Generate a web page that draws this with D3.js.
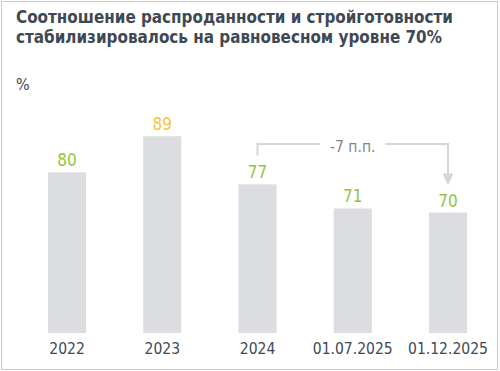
<!DOCTYPE html>
<html><head><meta charset="utf-8">
<script src="https://cdn.jsdelivr.net/npm/d3@7"></script>
<style>
html,body{margin:0;padding:0;background:#fff;}
svg{display:block;}
</style></head>
<body>
<svg id="chart" width="500" height="371"></svg>
<script>
const categories = ["2022", "2023", "2024", "01.07.2025", "01.12.2025"];
const values = [80, 89, 77, 71, 70];
const highlight = [false, true, false, false, false];
const titleLines = ["Соотношение распроданности и стройготовности", "стабилизировалось на равновесном уровне 70%"];
const unitLabel = "%";
const changeLabel = "-7 п.п.";
const changeFrom = 2, changeTo = 4;

const svg = d3.select("#chart");
const font = "'DejaVu Sans Condensed', 'DejaVu Sans', sans-serif";
const dark = "#3e4953";
const green = "#8fc640";
const orange = "#f9bf47";
const barColor = "#dcdde0";
const connColor = "#d6d6d6";

svg.append("rect").attr("x", 1.5).attr("y", 1.5).attr("width", 496).attr("height", 368)
  .attr("fill", "#fff").attr("stroke", "#cacaca").attr("stroke-width", 1);

const title = svg.append("text").attr("font-family", font).attr("font-weight", "bold")
  .attr("font-size", 16.9).attr("fill", dark);
titleLines.forEach((t, i) => {
  title.append("tspan").attr("x", 16).attr("y", 23 + i * 20).text(t);
});

svg.append("text").attr("x", 16).attr("y", 90).attr("font-family", font)
  .attr("font-size", 16).attr("fill", dark).text(unitLabel);

const x = d3.scaleBand().domain(categories).range([19.4, 495.6]).paddingInner(0.6).paddingOuter(0.3);
const y = d3.scaleLinear().domain([40, 100]).range([333, 92]);

svg.append("g").selectAll("rect").data(values).join("rect")
  .attr("x", (d, i) => x(categories[i]))
  .attr("y", d => y(d))
  .attr("width", x.bandwidth())
  .attr("height", d => y(40) - y(d))
  .attr("fill", barColor);

svg.append("g").selectAll("text").data(values).join("text")
  .attr("x", (d, i) => x(categories[i]) + x.bandwidth() / 2)
  .attr("y", d => y(d) - 6)
  .attr("text-anchor", "middle")
  .attr("font-family", font).attr("font-size", 17)
  .attr("fill", (d, i) => highlight[i] ? orange : green)
  .text(d => d);

const axis = d3.axisBottom(x).tickSize(0).tickPadding(0);
const gx = svg.append("g").attr("transform", `translate(0,${y(40)})`).call(axis);
gx.select(".domain").remove();
gx.selectAll("text").attr("font-family", font).attr("font-size", 15.5)
  .attr("fill", dark).attr("dy", null).attr("y", 21);

// connector
const cx1 = x(categories[changeFrom]) + x.bandwidth() / 2;
const cx2 = x(categories[changeTo]) + x.bandwidth() / 2;
const ly = 144;
const startY = y(values[changeFrom]) - 29;
const tipY = y(values[changeTo]) - 27;
const mid = (cx1 + cx2) / 2;
const lbl = svg.append("text").attr("x", mid).attr("y", ly + 7.5).attr("text-anchor", "middle")
  .attr("font-family", font).attr("font-size", 15.5).attr("fill", "#80868c").text(changeLabel);
const half = lbl.node().getComputedTextLength() / 2 + 10;
const g = svg.append("g").attr("fill", "none").attr("stroke", connColor).attr("stroke-width", 2);
g.append("path").attr("d", `M${cx1},${startY}V${ly}H${mid - half}`);
g.append("path").attr("d", `M${mid + half},${ly}H${cx2}V${tipY - 10}`);
svg.append("path").attr("d", `M${cx2 - 5.5},${tipY - 12}L${cx2 + 5.5},${tipY - 12}L${cx2},${tipY}Z`)
  .attr("fill", connColor);
</script>
</body></html>
